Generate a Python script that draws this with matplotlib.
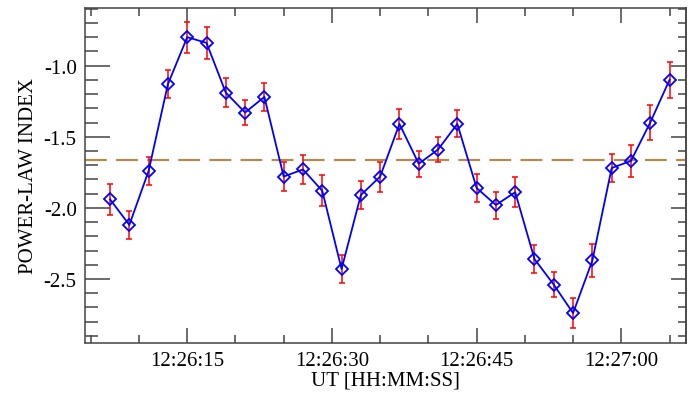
import datetime as dt
import matplotlib
matplotlib.use("Agg")
import matplotlib.pyplot as plt
import matplotlib.dates as mdates
import numpy as np

# times: 12:26:07 .. 12:27:05 every 2 s
t0 = dt.datetime(2000, 1, 1, 12, 26, 7)
seconds = list(range(0, 60, 2))
index = [-1.94, -2.12, -1.74, -1.13, -0.80, -0.84, -1.19, -1.33, -1.22, -1.78,
         -1.73, -1.88, -2.43, -1.91, -1.78, -1.41, -1.69, -1.59, -1.41, -1.86,
         -1.98, -1.89, -2.36, -2.54, -2.74, -2.37, -1.72, -1.67, -1.40, -1.10]
err = [0.11, 0.10, 0.10, 0.10, 0.11, 0.11, 0.10, 0.09, 0.10, 0.10,
       0.10, 0.11, 0.10, 0.10, 0.105, 0.105, 0.09, 0.09, 0.095, 0.10,
       0.095, 0.105, 0.10, 0.087, 0.107, 0.115, 0.10, 0.11, 0.12, 0.127]
mean_level = -1.666

times = [t0 + dt.timedelta(seconds=s) for s in seconds]

plt.rcParams['font.family'] = ['Liberation Serif', 'DejaVu Serif']
fig = plt.figure(figsize=(6.88, 4.02), dpi=100)
ax = fig.add_axes([0.1235, 0.1443, 0.8735, 0.8333])

ax.axhline(mean_level, color='#b38a50', lw=1.6, dashes=(9.8, 4.2), zorder=1)
ax.errorbar(times, index, yerr=err, fmt='none', ecolor='red', elinewidth=1.1,
            capsize=2, capthick=1.1, zorder=2)
ax.plot(times, index, color='blue', lw=1.3, marker='D', ms=6.5,
        mfc='none', mec='blue', mew=1.3, zorder=3)

ax.set_xlim(dt.datetime(2000, 1, 1, 12, 26, 4, 400000),
            dt.datetime(2000, 1, 1, 12, 27, 6, 700000))
ax.set_ylim(-2.95, -0.595)

ax.xaxis.set_major_locator(mdates.SecondLocator(bysecond=[0, 15, 30, 45]))
ax.xaxis.set_minor_locator(mdates.SecondLocator(bysecond=range(0, 60, 5)))
ax.xaxis.set_major_formatter(mdates.DateFormatter('%H:%M:%S'))
ax.set_yticks([-2.5, -2.0, -1.5, -1.0])
ax.set_yticklabels(['-2.5', '-2.0', '-1.5', '-1.0'])
ax.yaxis.set_minor_locator(plt.MultipleLocator(0.1))

ax.tick_params(axis='both', which='both', direction='in', top=True,
               color='#444444', labelsize=15, width=1.1)
ax.tick_params(axis='x', which='major', length=11, pad=6)
ax.tick_params(axis='x', which='minor', length=5.5)
ax.tick_params(axis='y', which='major', length=18, pad=6)
ax.tick_params(axis='y', which='minor', length=9)
for s in ax.spines.values():
    s.set_color('#444444')
    s.set_linewidth(1.1)

# right axis: shorter ticks, no labels
ax2 = ax.secondary_yaxis('right')
ax2.set_yticks([-2.5, -2.0, -1.5, -1.0])
ax2.yaxis.set_minor_locator(plt.MultipleLocator(0.1))
ax2.tick_params(which='both', direction='in', color='#444444', width=1.1,
                labelright=False)
ax2.tick_params(which='major', length=11)
ax2.tick_params(which='minor', length=5.5)
ax2.spines['right'].set_color('#444444')
ax2.spines['right'].set_linewidth(1.1)

ax.set_xlabel('UT [HH:MM:SS]', fontsize=15, labelpad=0)
ax.set_ylabel('POWER-LAW INDEX', fontsize=15, labelpad=4)

fig.savefig('out.png', dpi=100)
